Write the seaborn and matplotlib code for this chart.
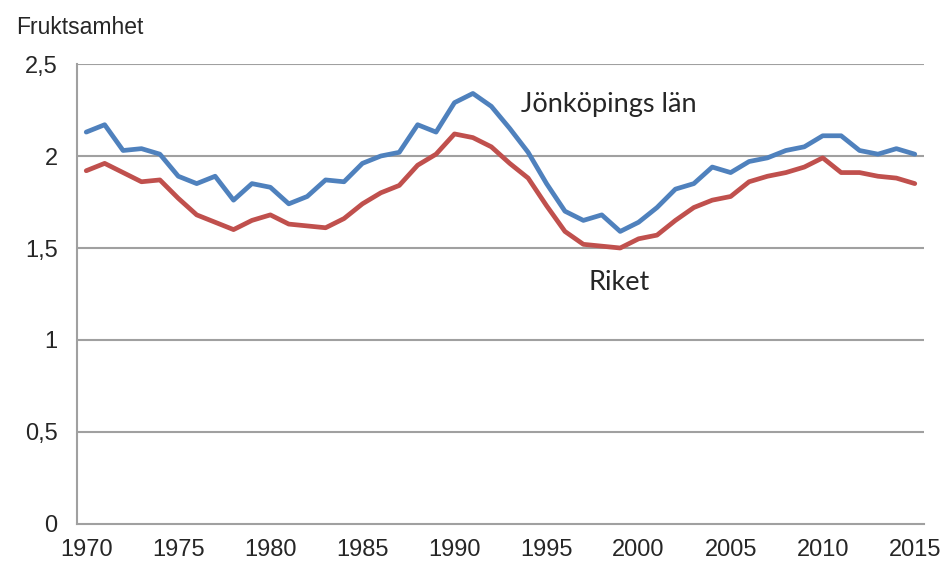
import numpy as np
import pandas as pd
import matplotlib
matplotlib.use('Agg')
import matplotlib.pyplot as plt
import seaborn as sns

# data
aYear = list(range(1970, 2016))
aJonkoping = [2.13, 2.17, 2.03, 2.04, 2.01, 1.89, 1.85, 1.89, 1.76, 1.85,
              1.83, 1.74, 1.78, 1.87, 1.86, 1.96, 2.00, 2.02, 2.17, 2.13,
              2.29, 2.34, 2.27, 2.15, 2.02, 1.85, 1.70, 1.65, 1.68, 1.59,
              1.64, 1.72, 1.82, 1.85, 1.94, 1.91, 1.97, 1.99, 2.03, 2.05,
              2.11, 2.11, 2.03, 2.01, 2.04, 2.01]
aRiket = [1.92, 1.96, 1.91, 1.86, 1.87, 1.77, 1.68, 1.64, 1.60, 1.65,
          1.68, 1.63, 1.62, 1.61, 1.66, 1.74, 1.80, 1.84, 1.95, 2.01,
          2.12, 2.10, 2.05, 1.96, 1.88, 1.73, 1.59, 1.52, 1.51, 1.50,
          1.55, 1.57, 1.65, 1.72, 1.76, 1.78, 1.86, 1.89, 1.91, 1.94,
          1.99, 1.91, 1.91, 1.89, 1.88, 1.85]
aYtick = [0, 0.5, 1, 1.5, 2, 2.5]
aYtick_label = ['0', '0,5', '1', '1,5', '2', '2,5']
aXtick = list(range(1970, 2016, 5))

sns.set_style('white')
plt.rcParams['font.family'] = ['Liberation Sans', 'DejaVu Sans']

df = pd.DataFrame({'year': aYear, 'jonkoping': aJonkoping, 'riket': aRiket})

fig = plt.figure(figsize=(9.44, 5.63), dpi=100)
ax = fig.add_axes([0.0816, 0.0693, 0.8972, 0.817])

sColor_grid = '#a0a0a0'
for y in aYtick[1:]:
    ax.axhline(y, color=sColor_grid, lw=1.5, zorder=1)

sns.lineplot(data=df, x='year', y='riket', color='#c0504d', lw=3.4, ax=ax, zorder=3)
sns.lineplot(data=df, x='year', y='jonkoping', color='#4f81bd', lw=3.4, ax=ax, zorder=4)

ax.set_xlim(1969.5, 2015.5)
ax.set_ylim(0, 2.5)
ax.set_xticks(aXtick)
ax.set_xticklabels([str(x) for x in aXtick], fontsize=17)
ax.set_xticks([x - 0.5 for x in aXtick], minor=True)
ax.set_yticks(aYtick)
ax.set_yticklabels(aYtick_label, fontsize=17)
ax.tick_params(axis='x', which='major', length=0, pad=11)
ax.tick_params(axis='x', which='minor', length=6, width=1.5, color=sColor_grid, direction='out')
ax.tick_params(axis='y', which='major', length=6, width=1.5, color=sColor_grid, direction='out', pad=8)
ax.set_xlabel('')
ax.set_ylabel('')

for s in ['top', 'right']:
    ax.spines[s].set_visible(False)
for s in ['left', 'bottom']:
    ax.spines[s].set_color(sColor_grid)
    ax.spines[s].set_linewidth(1.5)

ax.text(1993.6, 2.28, 'Jönköpings län', fontsize=19.5, va='center', ha='left',
        family=['Lato', 'DejaVu Sans'])
ax.text(1997.3, 1.315, 'Riket', fontsize=19.5, va='center', ha='left',
        family=['Lato', 'DejaVu Sans'])
fig.text(16 / 944, 1 - 28 / 563, 'Fruktsamhet', fontsize=16.5, va='center', ha='left')

plt.savefig('out.png', dpi=100)
